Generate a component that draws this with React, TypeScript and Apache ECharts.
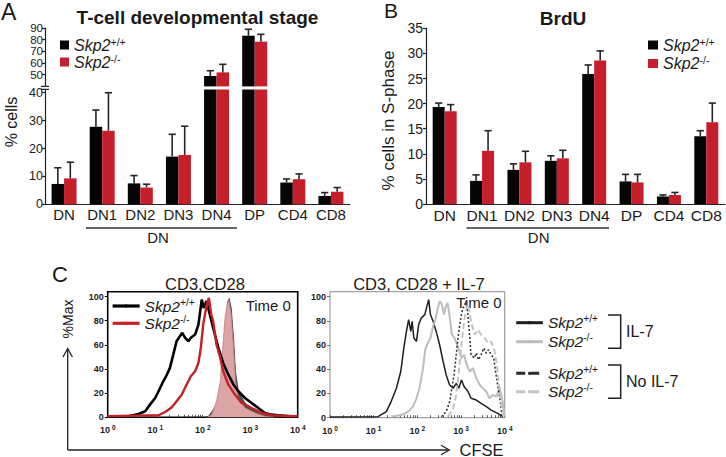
import React, { useEffect, useRef } from 'react';
import * as echarts from 'echarts';

const FONT = '"Liberation Sans", Arial, Helvetica, sans-serif';
const TXT = '#1a1a1a';
const BLACK = '#050505';
const RED = '#c61f2c';

// ---------- Panel A / B data ----------
const categories = ['DN', 'DN1', 'DN2', 'DN3', 'DN4', 'DP', 'CD4', 'CD8'];
const aWt = [7.3, 27.8, 7.5, 17.1, 48.9, 83.4, 7.8, 3.0];
const aWtErr = [5.8, 6.0, 2.8, 8.0, 4.5, 5.5, 1.3, 1.2];
const aKo = [9.3, 26.4, 6.0, 17.7, 52.0, 78.3, 9.0, 4.5];
const aKoErr = [5.8, 13.6, 1.2, 10.3, 6.9, 6.3, 1.9, 1.5];
const aUpperTicks = [50, 60, 70, 80, 90];
const aUpperLabelsOdd = [50, 70, 90];
const aUpperLabelsEven = [60, 80];
const aLowerTicks = [0, 10, 20, 30, 40];

const bWt = [19.3, 4.6, 6.8, 8.6, 25.9, 4.5, 1.5, 13.5];
const bWtErr = [0.8, 1.2, 1.2, 1.0, 1.8, 1.4, 0.3, 1.1];
const bKo = [18.5, 10.6, 8.3, 9.1, 28.6, 4.3, 1.8, 16.3];
const bKoErr = [1.3, 4.0, 2.2, 1.6, 1.9, 1.6, 0.5, 3.8];
const bTicks = [0, 5, 10, 15, 20, 25, 30, 35];

// ---------- Panel C data: [log10 CFSE, % of max] ----------
const cLeftWt = [[0, 0.5], [0.43, 0.8], [0.65, 2.7], [0.79, 5.0], [0.89, 10.5], [1.0, 16.0], [1.07, 21.6], [1.17, 29.8], [1.24, 34.8], [1.31, 40.9], [1.38, 51.9], [1.45, 63.0], [1.52, 67.2], [1.57, 69.9], [1.63, 65.8], [1.7, 63.0], [1.75, 65.8], [1.84, 68.5], [1.91, 76.8], [1.98, 97.5], [2.02, 90.6], [2.08, 96.2], [2.15, 85.1], [2.22, 74.1], [2.33, 57.5], [2.43, 45.0], [2.54, 35.3], [2.65, 27.0], [2.75, 21.6], [2.89, 16.0], [3.03, 11.9], [3.17, 7.7], [3.31, 3.6], [3.45, 2.2], [3.59, 1.7], [3.87, 0.8], [4, 0.5]];
const cLeftKo = [[0, 1], [1.07, 1.7], [1.21, 4.4], [1.35, 8.3], [1.45, 13.3], [1.56, 18.8], [1.66, 27.0], [1.75, 34.0], [1.84, 38.1], [1.91, 45.0], [1.96, 57.5], [2.01, 76.8], [2.06, 87.9], [2.11, 96.2], [2.13, 98.9], [2.18, 85.1], [2.22, 79.6], [2.29, 60.2], [2.37, 49.2], [2.43, 38.1], [2.54, 27.0], [2.68, 18.8], [2.82, 11.9], [3.03, 7.7], [3.24, 3.6], [3.45, 1.7], [3.73, 1], [4, 1]];
const cTime0Wt = [[2.05, 0], [2.12, 0.8], [2.2, 5.0], [2.37, 16.0], [2.43, 43.6], [2.48, 79.6], [2.53, 96.2], [2.56, 98.4], [2.6, 90.6], [2.65, 65.8], [2.69, 38.1], [2.75, 21.6], [2.89, 11.9], [3.03, 7.2], [3.24, 2.7], [3.45, 0.8], [3.6, 0]];
const cTime0Ko = [[2.1, 0], [2.19, 2.2], [2.29, 13.3], [2.37, 29.8], [2.41, 51.9], [2.47, 82.3], [2.52, 93.4], [2.55, 97.5], [2.6, 85.1], [2.65, 57.5], [2.69, 29.8], [2.75, 16.0], [2.89, 7.7], [3.1, 3.6], [3.31, 0.8], [3.5, 0]];
const cRightWtIL7 = [[0, 0.5], [1.1, 0.8], [1.29, 5.0], [1.4, 13.3], [1.52, 24.3], [1.62, 38.1], [1.69, 57.5], [1.75, 71.3], [1.8, 80.9], [1.85, 71.3], [1.88, 79.6], [1.92, 65.8], [1.98, 63.0], [2.03, 76.8], [2.09, 82.3], [2.17, 85.1], [2.21, 90.6], [2.26, 97.5], [2.3, 85.1], [2.36, 79.6], [2.43, 71.3], [2.51, 60.2], [2.59, 46.4], [2.66, 35.3], [2.74, 27.0], [2.82, 24.3], [2.89, 28.4], [2.95, 24.3], [3.01, 31.2], [3.07, 25.7], [3.16, 21.6], [3.23, 16.0], [3.35, 14.6], [3.46, 11.9], [3.58, 9.1], [3.69, 6.3], [3.84, 3.6], [3.96, 0.8]];
const cRightKoIL7 = [[1.4, 0.8], [1.63, 2.2], [1.79, 5.0], [1.9, 9.1], [1.98, 16.0], [2.05, 24.3], [2.13, 40.9], [2.18, 56.1], [2.24, 61.6], [2.3, 65.8], [2.36, 75.4], [2.41, 80.9], [2.47, 90.6], [2.51, 96.2], [2.56, 93.4], [2.61, 85.1], [2.64, 90.6], [2.69, 94.8], [2.74, 83.7], [2.79, 68.5], [2.85, 65.8], [2.93, 58.8], [3.01, 49.2], [3.07, 51.9], [3.12, 45.0], [3.2, 38.1], [3.27, 40.9], [3.35, 32.6], [3.43, 27.0], [3.5, 24.3], [3.58, 21.6], [3.65, 16.0], [3.73, 18.8], [3.81, 17.4], [3.88, 24.3], [3.94, 16.0], [4.0, 0.8]];
const cRightWtNo = [[2.55, 0.8], [2.66, 5.0], [2.74, 13.3], [2.79, 24.3], [2.84, 35.3], [2.89, 51.9], [2.93, 65.8], [2.97, 76.8], [3.01, 85.1], [3.04, 90.6], [3.08, 92.0], [3.11, 96.2], [3.14, 90.6], [3.17, 79.6], [3.2, 65.8], [3.23, 51.9], [3.3, 49.2], [3.35, 53.3], [3.4, 47.8], [3.46, 51.9], [3.52, 57.5], [3.58, 53.3], [3.63, 56.1], [3.69, 51.9], [3.75, 49.2], [3.79, 38.1], [3.84, 27.0], [3.9, 13.3], [3.94, 0.8]];
const cRightKoNo = [[2.7, 0.8], [2.82, 7.7], [2.89, 18.8], [2.95, 38.1], [3.01, 60.2], [3.07, 79.6], [3.12, 90.6], [3.16, 93.4], [3.2, 85.1], [3.25, 76.8], [3.31, 68.5], [3.39, 72.7], [3.46, 68.5], [3.54, 65.8], [3.62, 61.6], [3.69, 63.0], [3.77, 54.7], [3.82, 43.6], [3.87, 27.0], [3.92, 13.3], [3.97, 0.8]];
const cYTicks = [0, 20, 40, 60, 80, 100];
const cXDecades = [0, 1, 2, 3, 4];

const logTicks: number[] = [];
for (let d = 0; d < 4; d++) for (let k = 1; k < 10; k++) logTicks.push(d + Math.log10(k));
logTicks.push(4);

const rich = (size: number) => ({
  i: { fontFamily: FONT, fontStyle: 'italic', fontSize: size, lineHeight: 18, color: TXT },
  s: { fontFamily: FONT, fontSize: size * 0.66, lineHeight: 10, verticalAlign: 'top', color: TXT },
});
const legendFmt = (name: string) =>
  name.indexOf('ko') >= 0 || name.indexOf('-/-') >= 0 ? '{i|Skp2}{s|-/-}' : '{i|Skp2}{s|+/+}';

function errSeries(xi: number, yi: number, vals: number[], errs: number[], offset: number, keep: (v: number) => boolean) {
  const data: number[][] = [];
  vals.forEach((v, i) => { if (keep(v)) data.push([i, v + errs[i], v]); });
  return {
    type: 'custom', xAxisIndex: xi, yAxisIndex: yi, z: 5, silent: true, data,
    renderItem: (_p: any, api: any) => {
      const base = api.coord([api.value(0), api.value(2)]);
      const top = api.coord([api.value(0), api.value(1)]);
      const x = base[0] + offset;
      const st = { stroke: '#262626', lineWidth: 1.6 };
      return {
        type: 'group', children: [
          { type: 'line', shape: { x1: x, y1: base[1], x2: x, y2: top[1] }, style: st },
          { type: 'line', shape: { x1: x - 3.6, y1: top[1], x2: x + 3.6, y2: top[1] }, style: st },
        ],
      };
    },
  };
}

const catAxis = (grid: number, show: boolean, fontSize: number) => ({
  type: 'category', gridIndex: grid, data: categories,
  axisLine: { show, lineStyle: { color: '#222', width: 1.2 } },
  axisTick: { show: false },
  axisLabel: { show, interval: 0, hideOverlap: false, fontFamily: FONT, fontSize, color: TXT, margin: 3 },
  splitLine: { show: false },
});

const valAxisBase = (grid: number, min: number, max: number, ticks: number[], labels: number[], fontSize: number, margin = 2, lineHeight?: number) => ({
  type: 'value', gridIndex: grid, min, max, position: 'left', offset: 0,
  axisLine: { show: true, lineStyle: { color: '#222', width: 1.2 } },
  axisTick: { show: true, length: 3, customValues: ticks, lineStyle: { color: '#222', width: 1.2 } },
  axisLabel: {
    customValues: labels, fontFamily: FONT, fontSize, lineHeight, color: TXT, margin,
    hideOverlap: false, showMinLabel: true, showMaxLabel: true,
  },
  splitLine: { show: false },
});

const logAxis = (grid: number) => ({
  type: 'value', gridIndex: grid, min: 0, max: 4,
  axisLine: { show: false },
  axisTick: { show: true, inside: true, length: 2.5, customValues: logTicks, lineStyle: { color: '#333', width: 0.8 } },
  axisLabel: {
    customValues: cXDecades, margin: 7, hideOverlap: false, showMinLabel: true, showMaxLabel: true,
    formatter: (v: number) => `{b|10}{s|${v}}`,
    rich: {
      b: { fontFamily: FONT, fontSize: 9, fontWeight: 'bold', lineHeight: 12, color: TXT },
      s: { fontFamily: FONT, fontSize: 6.5, fontWeight: 'bold', lineHeight: 7, verticalAlign: 'top', padding: [0, 0, 0, 2], color: TXT },
    },
  },
  splitLine: { show: false },
});

const cYAxis = (grid: number, color: string) => ({
  type: 'value', gridIndex: grid, min: 0, max: 104,
  axisLine: { show: false },
  axisTick: { show: true, length: 3, customValues: cYTicks, lineStyle: { color, width: 1 } },
  axisLabel: { customValues: cYTicks, fontFamily: FONT, fontSize: 9, fontWeight: 'bold', color: TXT, margin: 4, hideOverlap: false, showMinLabel: true, showMaxLabel: true },
  splitLine: { show: false },
});

const text = (t: string, x: number, y: number, size: number, extra: any = {}) => ({
  type: 'text', x, y, silent: true,
  style: { text: t, fontFamily: FONT, fontSize: size, fill: TXT, align: 'center', verticalAlign: 'middle', ...extra },
});
const seg = (x1: number, y1: number, x2: number, y2: number, w = 1.5, c = '#222') => ({
  type: 'line', silent: true, shape: { x1, y1, x2, y2 }, style: { stroke: c, lineWidth: w },
});
const poly = (pts: number[][], w = 1.5, c = '#222') => ({
  type: 'polyline', silent: true, shape: { points: pts }, style: { stroke: c, lineWidth: w, fill: null },
});

function buildOption(): any {
  const hist = (name: string, xi: number, data: number[][], color: string, width: number, type: any = 'solid', z = 4) => ({
    type: 'line', name, xAxisIndex: xi, yAxisIndex: xi, data, symbol: 'none', color,
    lineStyle: { color, width, type }, z, silent: true,
  });
  const upperEven: any = valAxisBase(0, 40, 90, aUpperTicks, aUpperLabelsEven, 11.5, 2, 11);
  upperEven.axisLine = { show: false };
  upperEven.axisTick = { show: false };
  return {
    animation: false,
    backgroundColor: '#fff',
    grid: [
      { left: 45, top: 28, width: 305, height: 58.4, outerBoundsMode: 'none' },
      { left: 45, top: 89.4, width: 305, height: 114.9, outerBoundsMode: 'none' },
      { left: 426, top: 28.3, width: 299, height: 175.7, outerBoundsMode: 'none' },
      { left: 107.7, top: 291.7, width: 190, height: 125.6, show: true, borderColor: '#000', borderWidth: 1.6, backgroundColor: 'transparent', outerBoundsMode: 'none' },
      { left: 330, top: 291.7, width: 174.7, height: 126, show: true, borderColor: '#8c8c8c', borderWidth: 1, backgroundColor: 'transparent', outerBoundsMode: 'none' },
    ],
    xAxis: [catAxis(0, false, 15), catAxis(1, true, 15), catAxis(2, true, 15.5), logAxis(3), logAxis(4)],
    yAxis: [
      valAxisBase(0, 40, 90, aUpperTicks, aUpperLabelsOdd, 11.5, 2, 11),
      valAxisBase(1, 0, 41.2, aLowerTicks, aLowerTicks, 12.5, 2),
      valAxisBase(2, 0, 35, bTicks, bTicks, 14, 3),
      cYAxis(3, '#000'),
      cYAxis(4, '#777'),
      upperEven,
    ],
    legend: [
      { left: 60, top: 36, orient: 'vertical', padding: 0, itemWidth: 9, itemHeight: 9, itemGap: 0, icon: 'rect', selectedMode: false, data: ['Skp2+/+', 'Skp2-/-'], formatter: legendFmt, textStyle: { rich: rich(16) } },
      { left: 648, top: 36, orient: 'vertical', padding: 0, itemWidth: 10, itemHeight: 9, itemGap: 1.5, icon: 'rect', selectedMode: false, data: ['Skp2+/+', 'Skp2-/-'], formatter: legendFmt, textStyle: { rich: rich(16) } },
      { left: 111, top: 297, orient: 'vertical', padding: 0, itemWidth: 27, itemHeight: 4, itemGap: 0.3, selectedMode: false, data: ['L wt', 'L ko'], formatter: legendFmt, lineStyle: { width: 3.2 }, textStyle: { rich: rich(15.5) } },
      { left: 514.7, top: 313.7, orient: 'vertical', padding: 0, itemWidth: 26.7, itemHeight: 4, itemGap: 2, selectedMode: false, data: ['R wt IL7', 'R ko IL7'], formatter: legendFmt, lineStyle: { width: 3 }, textStyle: { rich: rich(15.5) } },
      { left: 514.7, top: 364.3, orient: 'vertical', padding: 0, itemWidth: 26.7, itemHeight: 4, itemGap: 1.4, selectedMode: false, data: ['R wt no', 'R ko no'], formatter: legendFmt, lineStyle: { width: 3, type: [9, 5] }, textStyle: { rich: rich(15.5) } },
    ],
    series: [
      { type: 'bar', name: 'Skp2+/+', xAxisIndex: 0, yAxisIndex: 0, data: aWt.map(v => (v > 40 ? v : '-')), barWidth: 12.5, barGap: '0%', itemStyle: { color: BLACK }, silent: true },
      { type: 'bar', name: 'Skp2-/-', xAxisIndex: 0, yAxisIndex: 0, data: aKo.map(v => (v > 40 ? v : '-')), barWidth: 12.5, barGap: '0%', itemStyle: { color: RED }, silent: true },
      { type: 'bar', name: 'Skp2+/+', xAxisIndex: 1, yAxisIndex: 1, data: aWt, barWidth: 12.5, barGap: '0%', itemStyle: { color: BLACK }, silent: true, clip: true },
      { type: 'bar', name: 'Skp2-/-', xAxisIndex: 1, yAxisIndex: 1, data: aKo, barWidth: 12.5, barGap: '0%', itemStyle: { color: RED }, silent: true, clip: true },
      errSeries(0, 0, aWt, aWtErr, -6.25, v => v > 41.2),
      errSeries(0, 0, aKo, aKoErr, 6.25, v => v > 41.2),
      errSeries(1, 1, aWt, aWtErr, -6.25, v => v <= 41.2),
      errSeries(1, 1, aKo, aKoErr, 6.25, v => v <= 41.2),
      { type: 'bar', name: 'Skp2+/+', xAxisIndex: 2, yAxisIndex: 2, data: bWt, barWidth: 12, barGap: '0%', itemStyle: { color: BLACK }, silent: true },
      { type: 'bar', name: 'Skp2-/-', xAxisIndex: 2, yAxisIndex: 2, data: bKo, barWidth: 12, barGap: '0%', itemStyle: { color: RED }, silent: true },
      errSeries(2, 2, bWt, bWtErr, -6, () => true),
      errSeries(2, 2, bKo, bKoErr, 6, () => true),
      { type: 'line', name: 'T0 wt', xAxisIndex: 3, yAxisIndex: 3, data: cTime0Wt, symbol: 'none', color: '#555', lineStyle: { color: '#3a3a3a', width: 0.8 }, areaStyle: { color: '#505050', opacity: 1 }, z: 2, silent: true },
      { type: 'line', name: 'T0 ko', xAxisIndex: 3, yAxisIndex: 3, data: cTime0Ko, symbol: 'none', color: '#d9a0a0', lineStyle: { color: '#c98080', width: 0.8 }, areaStyle: { color: '#dca4a4', opacity: 1 }, z: 3, silent: true },
      hist('L wt', 3, cLeftWt, '#000', 2.6),
      hist('L ko', 3, cLeftKo, '#c42026', 2.4),
      hist('R wt IL7', 4, cRightWtIL7, '#1e1e1e', 1.5),
      hist('R ko IL7', 4, cRightKoIL7, '#bdbdbd', 2),
      hist('R wt no', 4, cRightWtNo, '#2a2a2a', 1.5, [2, 2]),
      hist('R ko no', 4, cRightKoNo, '#c4c4c4', 2, [6, 3]),
    ],
    graphic: [
      text('A', 1, 12, 23, { align: 'left', lineHeight: 20 }),
      text('T-cell developmental stage', 197.5, 17.5, 19, { fontWeight: 'bold' }),
      { ...text('% cells', 11, 122, 16), rotation: Math.PI / 2 },
      seg(41, 86.4, 49, 86.4, 1.2), seg(41, 89.4, 49, 89.4, 1.2),
      seg(86, 228, 237, 228, 1.5, '#333'),
      text('DN', 158, 237.5, 15),
      text('B', 384, 10, 21, { align: 'left', lineHeight: 18 }),
      text('BrdU', 563, 18, 19, { fontWeight: 'bold' }),
      { ...text('% cells in S-phase', 388, 120.5, 17), rotation: Math.PI / 2 },
      seg(466.5, 228, 609, 228, 1.5, '#333'),
      text('DN', 538.7, 237.5, 15),
      text('C', 52, 274, 22, { align: 'left' }),
      text('CD3,CD28', 205, 283.5, 16.5),
      text('CD3, CD28 + IL-7', 419, 283.5, 16.5),
      text('Time 0', 268.3, 305, 15),
      text('Time 0', 479, 302, 15),
      { ...text('%Max', 68.3, 319, 14), rotation: Math.PI / 2 },
      seg(67.7, 348.5, 67.7, 450, 1.3),
      poly([[63, 357], [67.7, 348.5], [72.4, 357]], 1.3),
      seg(67.7, 450, 449, 450, 1.3),
      poly([[441, 445.3], [449.3, 450], [441, 454.7]], 1.3),
      text('CFSE', 481.5, 449.5, 16.5, { lineHeight: 14 }),
      poly([[608, 315], [620.7, 315], [620.7, 348.3], [608, 348.3]], 1.5),
      poly([[608, 365], [620.7, 365], [620.7, 398.3], [608, 398.3]], 1.5),
      text('IL-7', 626, 331.7, 16, { align: 'left' }),
      text('No IL-7', 626, 381.7, 16, { align: 'left' }),
    ],
  };
}

export default function App() {
  const ref = useRef<HTMLDivElement>(null);
  useEffect(() => {
    document.body.style.margin = '0';
    const chart = echarts.init(ref.current as HTMLDivElement, null, { renderer: 'svg' });
    chart.setOption(buildOption());
    return () => chart.dispose();
  }, []);
  return <div ref={ref} style={{ position: 'absolute', left: 0, top: 0, width: 726, height: 457, background: '#fff' }} />;
}
